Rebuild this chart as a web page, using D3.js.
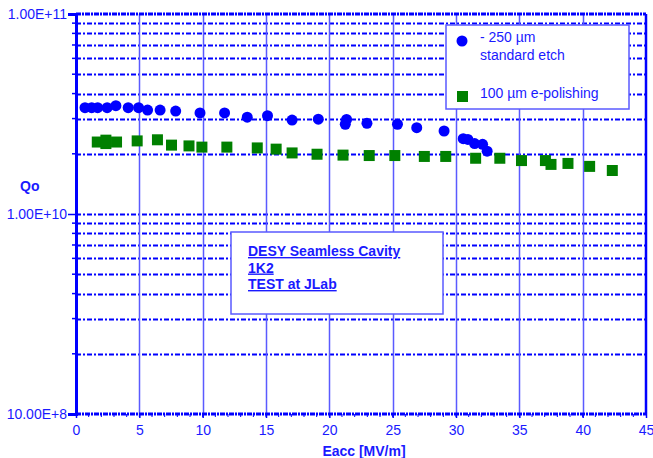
<!DOCTYPE html>
<html>
<head>
<meta charset="utf-8">
<script src="https://cdn.jsdelivr.net/npm/d3@7"></script>
<style>
  body { margin: 0; background: #fff; }
  text { font-family: "Liberation Sans", Arial, sans-serif; fill: #1a1aff; }
</style>
</head>
<body>
<script>
// data
var etchE = [0.71, 1.24, 1.71, 2.46, 3.15, 4.12, 4.94, 5.65, 6.64, 7.87, 9.79, 11.73, 13.52, 15.12, 17.06, 19.13, 21.36, 21.26, 22.97, 25.38, 26.9, 29.06, 30.57, 30.94, 31.47, 32.1, 32.46];
var etchQ = [3.40e10, 3.40e10, 3.40e10, 3.40e10, 3.48e10, 3.40e10, 3.40e10, 3.31e10, 3.31e10, 3.27e10, 3.20e10, 3.20e10, 3.05e10, 3.10e10, 2.95e10, 2.98e10, 2.97e10, 2.81e10, 2.84e10, 2.81e10, 2.70e10, 2.60e10, 2.38e10, 2.36e10, 2.25e10, 2.23e10, 2.06e10];

var epE = [1.68, 2.36, 2.36, 3.2, 4.83, 6.43, 7.54, 8.92, 9.94, 11.91, 14.31, 15.8, 17.06, 19.03, 21.08, 23.15, 25.17, 27.5, 29.19, 31.55, 33.46, 35.17, 37.06, 37.5, 38.84, 40.55, 42.34];
var epQ = [2.29e10, 2.34e10, 2.25e10, 2.29e10, 2.32e10, 2.35e10, 2.21e10, 2.19e10, 2.16e10, 2.16e10, 2.14e10, 2.11e10, 2.02e10, 1.99e10, 1.97e10, 1.96e10, 1.96e10, 1.94e10, 1.94e10, 1.90e10, 1.90e10, 1.85e10, 1.85e10, 1.77e10, 1.79e10, 1.73e10, 1.65e10];

var xTicks = [0, 5, 10, 15, 20, 25, 30, 35, 40, 45];
var yTicks = [1e9, 1e10, 1e11];
var yTickLabels = ["10.00E+8", "1.00E+10", "1.00E+11"];
var legendLabels = [["- 250 µm", "standard etch"], ["100 µm e-polishing"]];
var noteLines = ["DESY Seamless Cavity", "1K2", "TEST at JLab"];

var W = 653, H = 458;
var margin = {top: 14, right: 7, bottom: 44, left: 76};
var width = W - margin.left - margin.right,
    height = H - margin.top - margin.bottom;

var blue = "#0000ff";

var svg = d3.select("body").append("svg")
    .attr("width", W)
    .attr("height", H);

var g = svg.append("g")
    .attr("transform", "translate(" + margin.left + "," + margin.top + ")");

var x = d3.scaleLinear().domain([0, 45]).range([0, width]);
var y = d3.scaleLog().domain([1e9, 1e11]).range([height, 0]);

// minor log gridlines (2..9 in each decade) + the 1e10 line
var minor = [];
[1e9, 1e10].forEach(function(d) {
  for (var k = 2; k <= 9; k++) minor.push(d * k);
});

g.selectAll(".hgrid")
    .data(minor.concat([1e10]))
  .enter().append("line")
    .attr("x1", 0).attr("x2", width)
    .attr("y1", function(d) { return Math.round(y(d)) + 0.5; })
    .attr("y2", function(d) { return Math.round(y(d)) + 0.5; })
    .attr("stroke", blue)
    .attr("stroke-width", 2)
    .attr("stroke-dasharray", "5,2,2,2");

// vertical gridlines
g.selectAll(".vgrid")
    .data(xTicks.slice(1, -1))
  .enter().append("line")
    .attr("x1", function(d) { return Math.round(x(d)) + 0.5; })
    .attr("x2", function(d) { return Math.round(x(d)) + 0.5; })
    .attr("y1", 0).attr("y2", height)
    .attr("stroke", "#5a5aff")
    .attr("stroke-width", 1.5);

// top & bottom borders (dotted)
[0, height].forEach(function(yy) {
  g.append("line")
      .attr("x1", 0).attr("x2", width)
      .attr("y1", yy).attr("y2", yy)
      .attr("stroke", blue)
      .attr("stroke-width", 3)
      .attr("stroke-dasharray", "5,1,2,1");
});

// right border
g.append("line")
    .attr("x1", width).attr("x2", width)
    .attr("y1", 0).attr("y2", height)
    .attr("stroke", blue)
    .attr("stroke-width", 2.5);

// left axis
var yAxis = d3.axisLeft(y)
    .tickValues(yTicks)
    .tickSize(8)
    .tickFormat(function(d, i) { return yTickLabels[i]; });

var ya = g.append("g").call(yAxis);
ya.select(".domain").attr("stroke", blue).attr("stroke-width", 3);
ya.selectAll(".tick line").attr("stroke", blue).attr("stroke-width", 1.5);
ya.selectAll(".tick text")
    .attr("x", -9)
    .style("font-size", "14px")
    .style("fill", "#1a1aff");

g.selectAll(".yminor")
    .data(minor)
  .enter().append("line")
    .attr("x1", -4).attr("x2", 0)
    .attr("y1", function(d) { return y(d); })
    .attr("y2", function(d) { return y(d); })
    .attr("stroke", blue)
    .attr("stroke-width", 1.5);

// bottom axis
var xAxis = d3.axisBottom(x)
    .tickValues(xTicks)
    .tickSize(4)
    .tickFormat(d3.format("d"));

var xa = g.append("g")
    .attr("transform", "translate(0," + height + ")")
    .call(xAxis);
xa.select(".domain").remove();
xa.selectAll(".tick line").attr("stroke", blue).attr("stroke-width", 1.5);
xa.selectAll(".tick text")
    .attr("y", 11)
    .style("font-size", "14px")
    .style("fill", "#1a1aff");

g.selectAll(".xminor")
    .data(d3.range(1, 45))
  .enter().append("line")
    .attr("x1", function(d) { return x(d); })
    .attr("x2", function(d) { return x(d); })
    .attr("y1", height).attr("y2", height + 3)
    .attr("stroke", blue)
    .attr("stroke-width", 1);

// axis titles
svg.append("text")
    .attr("x", 364)
    .attr("y", 456)
    .attr("text-anchor", "middle")
    .style("font-size", "14px")
    .style("font-weight", "bold")
    .text("Eacc [MV/m]");

svg.append("text")
    .attr("x", 20)
    .attr("y", 191)
    .style("font-size", "14px")
    .style("font-weight", "bold")
    .text("Qo");

// data points
var etch = etchE.map(function(d, i) { return {e: d, q: etchQ[i]}; });
var ep = epE.map(function(d, i) { return {e: d, q: epQ[i]}; });

g.selectAll(".etch")
    .data(etch)
  .enter().append("circle")
    .attr("cx", function(d) { return x(d.e); })
    .attr("cy", function(d) { return y(d.q); })
    .attr("r", 5.5)
    .attr("fill", blue);

g.selectAll(".ep")
    .data(ep)
  .enter().append("rect")
    .attr("x", function(d) { return x(d.e) - 5.5; })
    .attr("y", function(d) { return y(d.q) - 5.5; })
    .attr("width", 11)
    .attr("height", 11)
    .attr("fill", "#008000");

// legend
var lg = svg.append("g").attr("transform", "translate(446,25)");
lg.append("rect")
    .attr("width", 183).attr("height", 84)
    .attr("fill", "#fff")
    .attr("stroke", "#5a5aff")
    .attr("stroke-width", 1.5);
lg.append("circle").attr("cx", 16).attr("cy", 16).attr("r", 5.5).attr("fill", blue);
lg.append("rect").attr("x", 11).attr("y", 66).attr("width", 11).attr("height", 11).attr("fill", "#008000");
lg.append("text").attr("x", 34).attr("y", 17).style("font-size", "14px").text(legendLabels[0][0]);
lg.append("text").attr("x", 34).attr("y", 35).style("font-size", "14px").text(legendLabels[0][1]);
lg.append("text").attr("x", 34).attr("y", 73).style("font-size", "14px").text(legendLabels[1][0]);

// annotation box
var nb = svg.append("g").attr("transform", "translate(231,232)");
nb.append("rect")
    .attr("width", 212).attr("height", 82)
    .attr("fill", "#fff")
    .attr("stroke", "#5a5aff")
    .attr("stroke-width", 1.5);
nb.selectAll(".note")
    .data(noteLines)
  .enter().append("text")
    .attr("x", 17)
    .attr("y", function(d, i) { return 24 + i * 16.5; })
    .style("font-size", "14px")
    .style("font-weight", "bold")
    .style("text-decoration", "underline")
    .text(function(d) { return d; });
</script>
</body>
</html>
